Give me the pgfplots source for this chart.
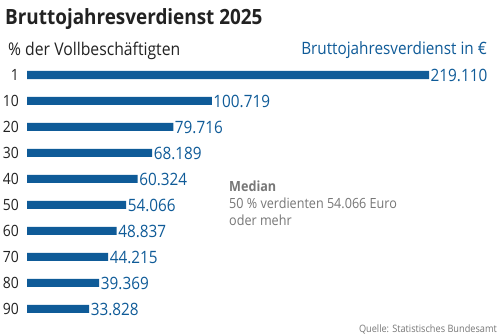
\documentclass[border=0pt]{standalone}
\usepackage{fontspec}
\setmainfont{Open Sans}[FakeStretch=0.9]
\usepackage{pgfplots}
\pgfplotsset{compat=1.18}
\definecolor{barblue}{HTML}{0F5B98}
\definecolor{txtgray}{HTML}{777777}
\definecolor{txtdark}{HTML}{222222}
\begin{document}
\begin{tikzpicture}
\useasboundingbox[fill=white] (0bp,0bp) rectangle (500bp,336bp);
\node[anchor=base west, inner sep=0pt, font=\fontsize{21bp}{24bp}\selectfont\bfseries, text=txtdark] at (5bp,311bp) {Bruttojahresverdienst 2025};
\node[anchor=base west, inner sep=0pt, font=\fontsize{17.5bp}{20bp}\selectfont, text=txtdark] at (8bp,280bp) {\% der Vollbeschäftigten};
\node[anchor=base east, inner sep=0pt, font=\fontsize{17bp}{20bp}\selectfont, text=barblue] at (487bp,281bp) {Bruttojahresverdienst in €};
\node[anchor=base west, inner sep=0pt, font=\fontsize{14bp}{17bp}\selectfont\bfseries, text=txtgray] at (229bp,144bp) {Median};
\node[anchor=base west, inner sep=0pt, font=\fontsize{14bp}{17bp}\selectfont, text=txtgray] at (229bp,127.5bp) {50 \% verdienten 54.066 Euro};
\node[anchor=base west, inner sep=0pt, font=\fontsize{14bp}{17bp}\selectfont, text=txtgray] at (229bp,110bp) {oder mehr};
\node[anchor=base east, inner sep=0pt, font=\fontsize{10.2bp}{12bp}\selectfont, text=txtgray] at (497bp,4bp) {Quelle: Statistisches Bundesamt};
\begin{axis}[
  at={(27bp,274bp)}, anchor=north west,
  scale only axis, width=402bp, height=260bp,
  xmin=0, xmax=219110, ymin=-0.5, ymax=9.5, y dir=reverse,
  axis line style={draw=none},
  xtick=\empty,
  ytick={0,1,2,3,4,5,6,7,8,9},
  yticklabels={1,10,20,30,40,50,60,70,80,90},
  major tick length=0pt,
  yticklabel style={font=\fontsize{15.5bp}{18bp}\selectfont, text=txtdark, inner sep=0pt, xshift=-8bp},
  clip=false,
  xbar, bar width=8bp, bar shift=0pt,
  point meta=x,
  nodes near coords={\pgfmathprintnumber[fixed, precision=0, 1000 sep={.}, assume math mode=true]{\pgfplotspointmeta}},
  every node near coord/.append style={font=\fontsize{17bp}{20bp}\selectfont, text=barblue, inner sep=1.5bp, anchor=west},
]
\addplot[fill=barblue, draw=none] coordinates {
(219110,0) (100719,1) (79716,2) (68189,3) (60324,4) (54066,5) (48837,6) (44215,7) (39369,8) (33828,9)
};
\end{axis}
\end{tikzpicture}
\end{document}
